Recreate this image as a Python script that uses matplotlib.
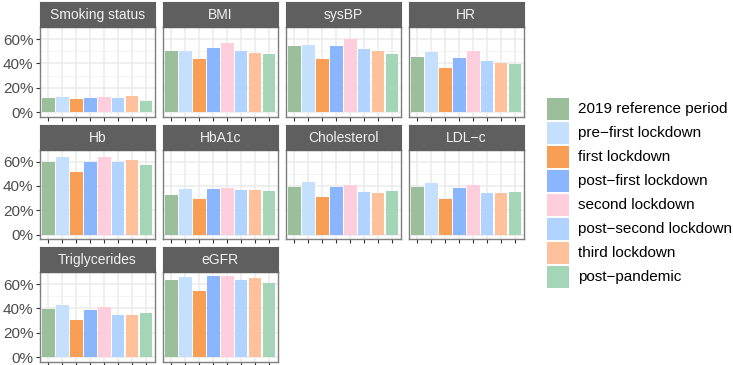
import matplotlib.pyplot as plt
from matplotlib.patches import Rectangle
from matplotlib.ticker import FixedLocator, PercentFormatter

plt.rcParams['font.family'] = ['Liberation Sans', 'DejaVu Sans']

periods = ['2019 reference period', 'pre\u2212first lockdown', 'first lockdown',
           'post\u2212first lockdown', 'second lockdown', 'post\u2212second lockdown',
           'third lockdown', 'post\u2212pandemic']
colours = ['#9BBF9B', '#C5E0FF', '#F99F55', '#8AB6FF',
           '#FFCEDC', '#B0D3FF', '#FFC19C', '#A4D5B6']

measures = ['Smoking status', 'BMI', 'sysBP', 'HR', 'Hb', 'HbA1c',
            'Cholesterol', 'LDL\u2212c', 'Triglycerides', 'eGFR']

smoking = [11.6, 12.9, 10.8, 12.1, 12.4, 11.6, 13.5, 9.4]
bmi = [50.3, 50.3, 43.3, 52.5, 57.0, 50.3, 48.7, 47.6]
sysbp = [54.3, 54.9, 43.3, 54.3, 60.0, 51.9, 50.3, 47.9]
hr = [45.2, 49.2, 36.3, 44.4, 50.3, 42.2, 40.1, 39.3]
hb = [59.7, 63.3, 51.5, 60.0, 63.9, 59.7, 61.1, 57.3]
hba1c = [32.8, 37.8, 29.7, 37.8, 38.5, 36.6, 36.6, 36.3]
cholesterol = [39.4, 43.0, 30.6, 38.8, 41.0, 34.7, 34.4, 35.8]
ldl = [39.1, 42.4, 29.5, 38.5, 40.7, 33.9, 34.4, 35.2]
triglycerides = [39.6, 42.9, 30.4, 39.1, 41.0, 34.5, 34.8, 36.1]
egfr = [63.0, 65.4, 54.6, 66.5, 66.5, 63.0, 64.6, 60.5]

values = [smoking, bmi, sysbp, hr, hb, hba1c, cholesterol, ldl, triglycerides, egfr]

W, H = 733, 365
fig = plt.figure(figsize=(W / 100, H / 100), dpi=100)


def fr(x, y, w, h):
    # pixel box (top-left origin) -> figure fraction
    return [x / W, 1 - (y + h) / H, w / W, h / H]


ymax = max(max(v) for v in values) / 100
x = list(range(len(periods)))

for i, (name, vals) in enumerate(zip(measures, values)):
    r, c = divmod(i, 4)
    left = 40 + c * 123
    top = 2 + r * 122.5
    ax = fig.add_axes(fr(left, top + 25, 114.5, 89.5))
    ax.set_axisbelow(True)
    ax.bar(x, [v / 100 for v in vals], width=0.9, color=colours)
    ax.set_xlim(-0.6, 7.6)
    ax.set_ylim(-0.05 * ymax, 1.05 * ymax)
    ax.set_xticks(x)
    ax.set_xticklabels([])
    ax.yaxis.set_major_locator(FixedLocator([0, 0.2, 0.4, 0.6]))
    ax.yaxis.set_minor_locator(FixedLocator([0.1, 0.3, 0.5]))
    ax.yaxis.set_major_formatter(PercentFormatter(1.0, decimals=0))
    ax.grid(which='major', color='#EBEBEB', lw=1.1)
    ax.grid(which='minor', axis='y', color='#F2F2F2', lw=0.6)
    ax.tick_params(which='major', length=2.6, width=0.8, color='#333333',
                   labelsize=11, labelcolor='#4D4D4D', pad=2)
    ax.tick_params(which='minor', length=0)
    if c != 0:
        ax.tick_params(axis='y', which='major', length=0, labelleft=False)
    for s in ax.spines.values():
        s.set_color('#7F7F7F')
        s.set_linewidth(1.0)

    sx = fig.add_axes(fr(left, top, 114.5, 25))
    sx.set_facecolor('#5F5F5F')
    sx.set_xticks([])
    sx.set_yticks([])
    for s in sx.spines.values():
        s.set_color('#5F5F5F')
    sx.text(0.5, 0.47, name, ha='center', va='center', color='#F2F2F2',
            fontsize=10, transform=sx.transAxes)

# legend
for k, (lab, col) in enumerate(zip(periods, colours)):
    ky = 97.7 + k * 24.0
    fig.patches.append(Rectangle((547 / W, 1 - (ky + 22) / H), 22 / W, 22 / H,
                                 transform=fig.transFigure, facecolor=col,
                                 edgecolor='none'))
    fig.text(578 / W, 1 - (ky + 11) / H, lab, ha='left', va='center',
             fontsize=11, color='black')

fig.savefig('out.png', dpi=100)
